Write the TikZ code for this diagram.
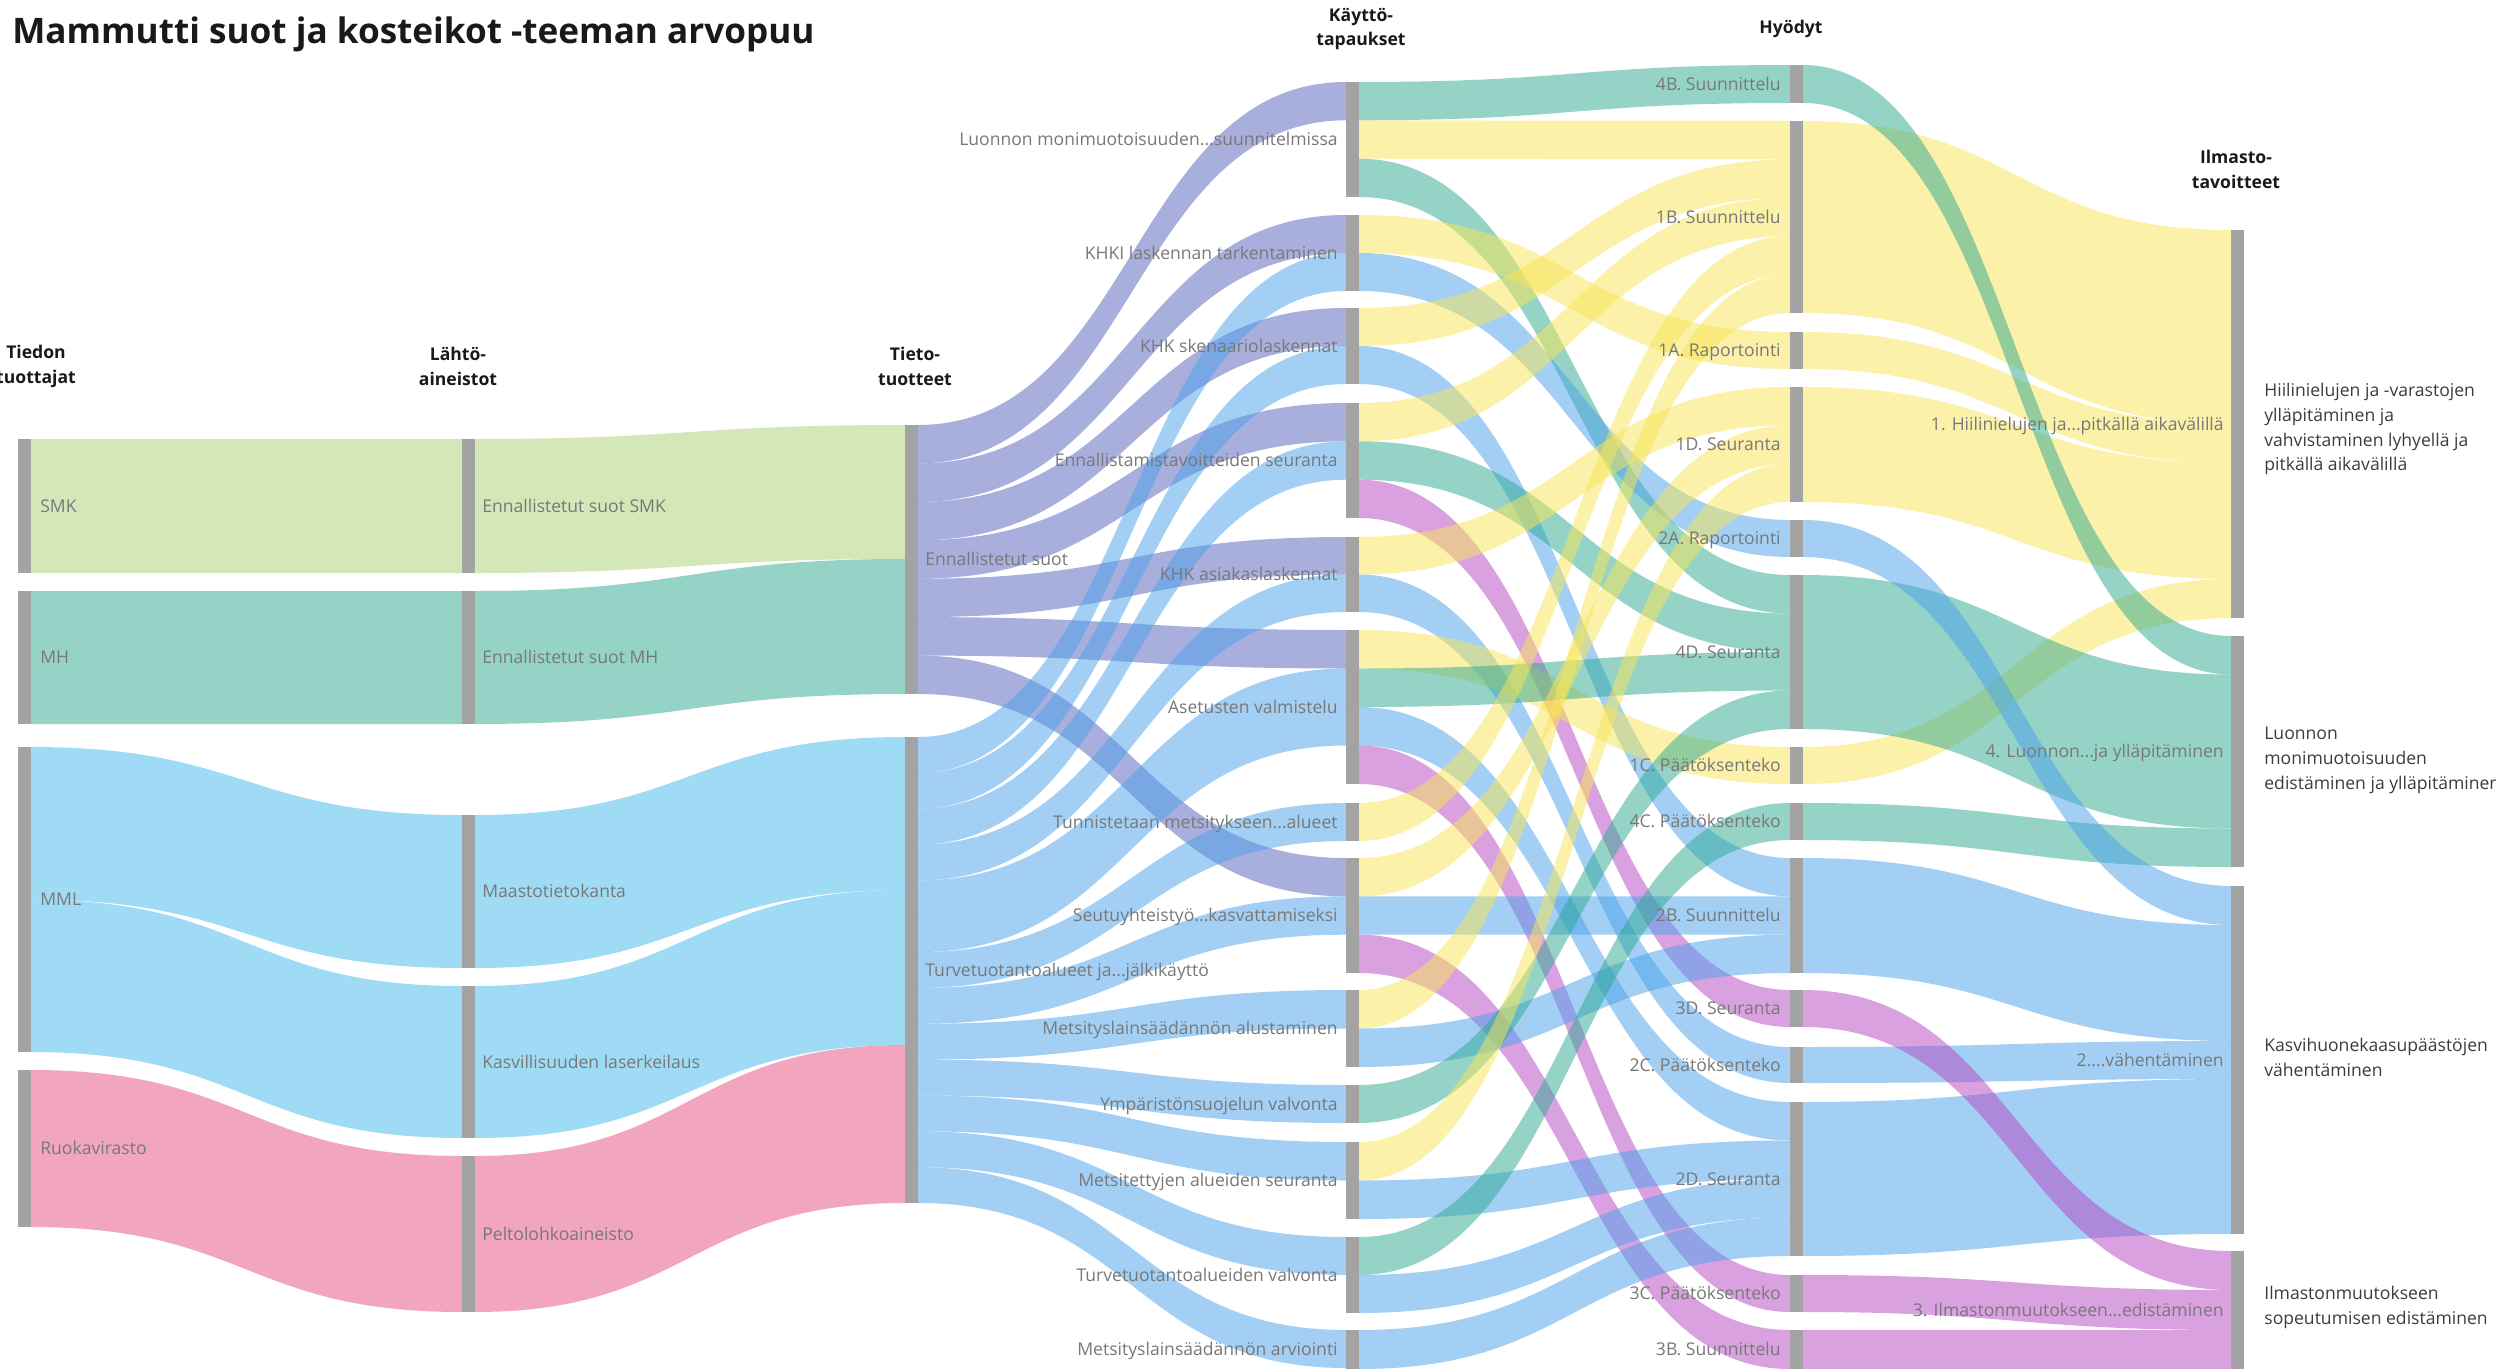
\documentclass[tikz,border=0pt]{standalone}
\usepackage{fontspec}
\setmainfont{Open Sans}
\definecolor{cY}{RGB}{249,229,85}
\definecolor{cL}{RGB}{85,97,189}
\definecolor{cB}{RGB}{73,161,235}
\definecolor{cC}{RGB}{65,185,235}
\definecolor{cT}{RGB}{45,169,145}
\definecolor{cG}{RGB}{169,209,115}
\definecolor{cP}{RGB}{229,77,129}
\definecolor{cM}{RGB}{181,69,193}
\definecolor{barc}{RGB}{163,163,163}
\definecolor{labc}{RGB}{120,120,120}
\definecolor{hdrc}{RGB}{25,25,25}
\definecolor{descc}{RGB}{60,60,60}
\newcommand{\flow}[7]{%
  \fill[#7] (#1,#3) .. controls ({(#1+#2)/2},#3) and ({(#1+#2)/2},#5) .. (#2,#5)
    -- (#2,#6) .. controls ({(#1+#2)/2},#6) and ({(#1+#2)/2},#4) .. (#1,#4) -- cycle;}
\newcommand{\FlA}[5]{\flow{31}{462}{#1}{#2}{#3}{#4}{#5}}
\newcommand{\FlB}[5]{\flow{475}{905}{#1}{#2}{#3}{#4}{#5}}
\newcommand{\FlC}[5]{\flow{918}{1346}{#1}{#2}{#3}{#4}{#5}}
\newcommand{\FlD}[5]{\flow{1359}{1790}{#1}{#2}{#3}{#4}{#5}}
\newcommand{\FlE}[5]{\flow{1803}{2231}{#1}{#2}{#3}{#4}{#5}}
\newcommand{\kbar}[4]{\node[barsty, minimum height={(#4-#3)*0.02cm}] (#1) at ({#2+6.5},{(#3+#4)/2}) {};}
\begin{document}
\begin{tikzpicture}[x=0.02cm,y=-0.02cm,
  barsty/.style={fill=barc, draw=none, inner sep=0pt, outer sep=0pt, minimum width=0.26cm},
  lab/.style={font=\fontsize{10}{12}\selectfont, text=labc, inner sep=0pt, text height=0.72em, text depth=0pt},
  labl/.style={lab, anchor=west},
  labr/.style={lab, anchor=east},
  hdr/.style={font=\bfseries\fontsize{10}{14.2}\selectfont, text=hdrc, align=center, inner sep=0pt},
  desc/.style={font=\fontsize{10}{14.2}\selectfont, text=descc, align=left, inner sep=0pt, anchor=west},
  fY/.style={fill=cY, fill opacity=0.5},
  fL/.style={fill=cL, fill opacity=0.5},
  fB/.style={fill=cB, fill opacity=0.5},
  fC/.style={fill=cC, fill opacity=0.5},
  fT/.style={fill=cT, fill opacity=0.5},
  fG/.style={fill=cG, fill opacity=0.5},
  fP/.style={fill=cP, fill opacity=0.5},
  fM/.style={fill=cM, fill opacity=0.5}]
\fill[white] (0,0) rectangle (2496,1369);
\useasboundingbox (0,0) rectangle (2496,1369);

% ---------- stage 1
\FlA{439}{573}{439}{573}{fG}
\FlA{591}{724}{591}{724}{fT}
\FlA{747}{899.5}{815}{968}{fC}
\FlA{899.5}{1052}{986}{1138}{fC}
\FlA{1070}{1227}{1156}{1312}{fP}
% ---------- stage 2
\FlB{439}{573}{425}{559}{fG}
\FlB{591}{724}{559}{694}{fT}
\FlB{815}{968}{737}{890}{fC}
\FlB{986}{1138}{890}{1045}{fC}
\FlB{1156}{1312}{1045}{1203}{fP}
% ---------- stage 3
\FlC{425}{463.4}{82}{120.3}{fL}
\FlC{463.4}{501.9}{215}{253}{fL}
\FlC{501.9}{540.3}{308}{346}{fL}
\FlC{540.3}{578.7}{403}{441.3}{fL}
\FlC{578.7}{617.1}{537}{574.5}{fL}
\FlC{617.1}{655.6}{630}{668.5}{fL}
\FlC{655.6}{694}{858}{896.3}{fL}
\FlC{737}{772.8}{253}{291}{fB}
\FlC{772.8}{808.7}{346}{384}{fB}
\FlC{808.7}{844.5}{441.3}{479.7}{fB}
\FlC{844.5}{880.4}{574.5}{612}{fB}
\FlC{880.4}{916.2}{668.5}{707}{fB}
\FlC{916.2}{952.1}{707}{745.5}{fB}
\FlC{952.1}{987.9}{803}{841}{fB}
\FlC{987.9}{1023.8}{896.3}{934.7}{fB}
\FlC{1023.8}{1059.6}{990}{1028.5}{fB}
\FlC{1059.6}{1095.5}{1085}{1123}{fB}
\FlC{1095.5}{1131.3}{1142}{1180.5}{fB}
\FlC{1131.3}{1167.2}{1237}{1275}{fB}
\FlC{1167.2}{1203}{1330}{1368}{fB}
% ---------- stage 4
\FlD{82}{120.3}{65}{103}{fT}
\FlD{120.3}{158.7}{121}{159.4}{fY}
\FlD{158.7}{197}{575}{613.5}{fT}
\FlD{215}{253}{332}{369}{fY}
\FlD{253}{291}{520}{557}{fB}
\FlD{308}{346}{159.4}{197.8}{fY}
\FlD{346}{384}{858}{896.3}{fB}
\FlD{403}{441.3}{197.8}{236.2}{fY}
\FlD{441.3}{479.7}{613.5}{652}{fT}
\FlD{479.7}{518}{990}{1027}{fM}
\FlD{537}{574.5}{387}{425.3}{fY}
\FlD{574.5}{612}{1047}{1083}{fB}
\FlD{630}{668.5}{747}{784}{fY}
\FlD{668.5}{707}{652}{690.5}{fT}
\FlD{707}{745.5}{1102}{1140.5}{fB}
\FlD{745.5}{784}{1275}{1312}{fM}
\FlD{803}{841}{236.2}{274.6}{fY}
\FlD{858}{896.3}{425.3}{463.7}{fY}
\FlD{896.3}{934.7}{896.3}{934.7}{fB}
\FlD{934.7}{973}{1330}{1369}{fM}
\FlD{990}{1028.5}{274.6}{313}{fY}
\FlD{1028.5}{1067}{934.7}{973}{fB}
\FlD{1085}{1123}{690.5}{729}{fT}
\FlD{1142}{1180.5}{463.7}{502}{fY}
\FlD{1180.5}{1219}{1140.5}{1179}{fB}
\FlD{1237}{1275}{803}{840}{fT}
\FlD{1275}{1313}{1179}{1217.5}{fB}
\FlD{1330}{1369}{1217.5}{1256}{fB}
% ---------- stage 5
\FlE{121}{313}{230}{424}{fY}
\FlE{332}{369}{424}{463}{fY}
\FlE{387}{502}{463}{579}{fY}
\FlE{747}{784}{579}{618}{fY}
\FlE{65}{103}{636}{674.5}{fT}
\FlE{575}{729}{674.5}{828.5}{fT}
\FlE{803}{840}{828.5}{867}{fT}
\FlE{520}{557}{886}{925}{fB}
\FlE{858}{973}{925}{1041}{fB}
\FlE{1047}{1083}{1041}{1079}{fB}
\FlE{1102}{1256}{1079}{1234}{fB}
\FlE{990}{1027}{1251}{1290}{fM}
\FlE{1275}{1312}{1290}{1330}{fM}
\FlE{1330}{1369}{1330}{1369}{fM}

% ---------- bars
\kbar{t1}{18}{439}{573}
\kbar{t2}{18}{591}{724}
\kbar{t3}{18}{747}{1052}
\kbar{t4}{18}{1070}{1227}
\kbar{l1}{462}{439}{573}
\kbar{l2}{462}{591}{724}
\kbar{l3}{462}{815}{968}
\kbar{l4}{462}{986}{1138}
\kbar{l5}{462}{1156}{1312}
\kbar{p1}{905}{425}{694}
\kbar{p2}{905}{737}{1203}
\kbar{k1}{1346}{82}{197}
\kbar{k2}{1346}{215}{291}
\kbar{k3}{1346}{308}{384}
\kbar{k4}{1346}{403}{518}
\kbar{k5}{1346}{537}{612}
\kbar{k6}{1346}{630}{784}
\kbar{k7}{1346}{803}{841}
\kbar{k8}{1346}{858}{973}
\kbar{k9}{1346}{990}{1067}
\kbar{k10}{1346}{1085}{1123}
\kbar{k11}{1346}{1142}{1219}
\kbar{k12}{1346}{1237}{1313}
\kbar{k13}{1346}{1330}{1369}
\kbar{h4B}{1790}{65}{103}
\kbar{h1B}{1790}{121}{313}
\kbar{h1A}{1790}{332}{369}
\kbar{h1D}{1790}{387}{502}
\kbar{h2A}{1790}{520}{557}
\kbar{h4D}{1790}{575}{729}
\kbar{h1C}{1790}{747}{784}
\kbar{h4C}{1790}{803}{840}
\kbar{h2B}{1790}{858}{973}
\kbar{h3D}{1790}{990}{1027}
\kbar{h2C}{1790}{1047}{1083}
\kbar{h2D}{1790}{1102}{1256}
\kbar{h3C}{1790}{1275}{1312}
\kbar{h3B}{1790}{1330}{1369}
\kbar{i1}{2231}{230}{618}
\kbar{i4}{2231}{636}{867}
\kbar{i2}{2231}{886}{1234}
\kbar{i3}{2231}{1251}{1369}

% ---------- labels
\node[labl] at ([xshift=0.18cm]t1.east) {SMK};
\node[labl] at ([xshift=0.18cm]t2.east) {MH};
\node[labl] at ([xshift=0.18cm]t3.east) {MML};
\node[labl] at ([xshift=0.18cm]t4.east) {Ruokavirasto};
\node[labl] at ([xshift=0.14cm]l1.east) {Ennallistetut suot SMK};
\node[labl] at ([xshift=0.14cm]l2.east) {Ennallistetut suot MH};
\node[labl] at ([xshift=0.14cm]l3.east) {Maastotietokanta};
\node[labl] at ([xshift=0.14cm]l4.east) {Kasvillisuuden laserkeilaus};
\node[labl] at ([xshift=0.14cm]l5.east) {Peltolohkoaineisto};
\node[labl] at ([xshift=0.14cm]p1.east) {Ennallistetut suot};
\node[labl] at ([xshift=0.14cm]p2.east) {Turvetuotantoalueet ja...jälkikäyttö};
\node[labr] at ([xshift=-0.16cm]k1.west) {Luonnon monimuotoisuuden...suunnitelmissa};
\node[labr] at ([xshift=-0.16cm]k2.west) {KHKI laskennan tarkentaminen};
\node[labr] at ([xshift=-0.16cm]k3.west) {KHK skenaariolaskennat};
\node[labr] at ([xshift=-0.16cm]k4.west) {Ennallistamistavoitteiden seuranta};
\node[labr] at ([xshift=-0.16cm]k5.west) {KHK asiakaslaskennat};
\node[labr] at ([xshift=-0.16cm]k6.west) {Asetusten valmistelu};
\node[labr] at ([xshift=-0.16cm]k7.west) {Tunnistetaan metsitykseen...alueet};
\node[labr] at ([xshift=-0.16cm]k8.west) {Seutuyhteistyö...kasvattamiseksi};
\node[labr] at ([xshift=-0.16cm]k9.west) {Metsityslainsäädännön alustaminen};
\node[labr] at ([xshift=-0.16cm]k10.west) {Ympäristönsuojelun valvonta};
\node[labr] at ([xshift=-0.16cm]k11.west) {Metsitettyjen alueiden seuranta};
\node[labr] at ([xshift=-0.16cm]k12.west) {Turvetuotantoalueiden valvonta};
\node[labr] at ([xshift=-0.16cm]k13.west) {Metsityslainsäädännön arviointi};
\node[labr] at ([xshift=-0.18cm]h4B.west) {4B. Suunnittelu};
\node[labr] at ([xshift=-0.18cm]h1B.west) {1B. Suunnittelu};
\node[labr] at ([xshift=-0.18cm]h1A.west) {1A. Raportointi};
\node[labr] at ([xshift=-0.18cm]h1D.west) {1D. Seuranta};
\node[labr] at ([xshift=-0.18cm]h2A.west) {2A. Raportointi};
\node[labr] at ([xshift=-0.18cm]h4D.west) {4D. Seuranta};
\node[labr] at ([xshift=-0.18cm]h1C.west) {1C. Päätöksenteko};
\node[labr] at ([xshift=-0.18cm]h4C.west) {4C. Päätöksenteko};
\node[labr] at ([xshift=-0.18cm]h2B.west) {2B. Suunnittelu};
\node[labr] at ([xshift=-0.18cm]h3D.west) {3D. Seuranta};
\node[labr] at ([xshift=-0.18cm]h2C.west) {2C. Päätöksenteko};
\node[labr] at ([xshift=-0.18cm]h2D.west) {2D. Seuranta};
\node[labr] at ([xshift=-0.18cm]h3C.west) {3C. Päätöksenteko};
\node[labr] at ([xshift=-0.18cm]h3B.west) {3B. Suunnittelu};
\node[labr] at ([xshift=-0.14cm]i1.west) {1. Hiilinielujen ja...pitkällä aikavälillä};
\node[labr] at ([xshift=-0.14cm]i4.west) {4. Luonnon...ja ylläpitäminen};
\node[labr] at ([xshift=-0.14cm]i2.west) {2....vähentäminen};
\node[labr] at ([xshift=-0.14cm]i3.west) {3. Ilmastonmuutokseen...edistäminen};

% ---------- right descriptions
\node[desc] (d1) at (2264,429) {Hiilinielujen ja -varastojen\\ylläpitäminen ja\\vahvistaminen lyhyellä ja\\pitkällä aikavälillä};
\node[desc] (d4) at (2264,760) {Luonnon\\monimuotoisuuden\\edistäminen ja ylläpitäminen};
\node[desc] (d2) at (2264,1057) {Kasvihuonekaasupäästöjen\\vähentäminen};
\node[desc] (d3) at (2264,1307) {Ilmastonmuutokseen\\sopeutumisen edistäminen};

% ---------- headers
\node[hdr] (hT) at (36,366) {Tiedon\\tuottajat};
\node[hdr] (hL) at (458,366) {Lähtö-\\aineistot};
\node[hdr] (hTi) at (915,366) {Tieto-\\tuotteet};
\node[hdr] (hK) at (1361,29) {Käyttö-\\tapaukset};
\node[hdr] (hH) at (1791,29) {Hyödyt};
\node[hdr] (hI) at (2236,169) {Ilmasto-\\tavoitteet};
\node[anchor=base west, inner sep=0pt, text=hdrc, font=\bfseries\fontsize{20}{24}\selectfont] (title) at (12,43) {Mammutti suot ja kosteikot -teeman arvopuu};
\end{tikzpicture}
\end{document}
